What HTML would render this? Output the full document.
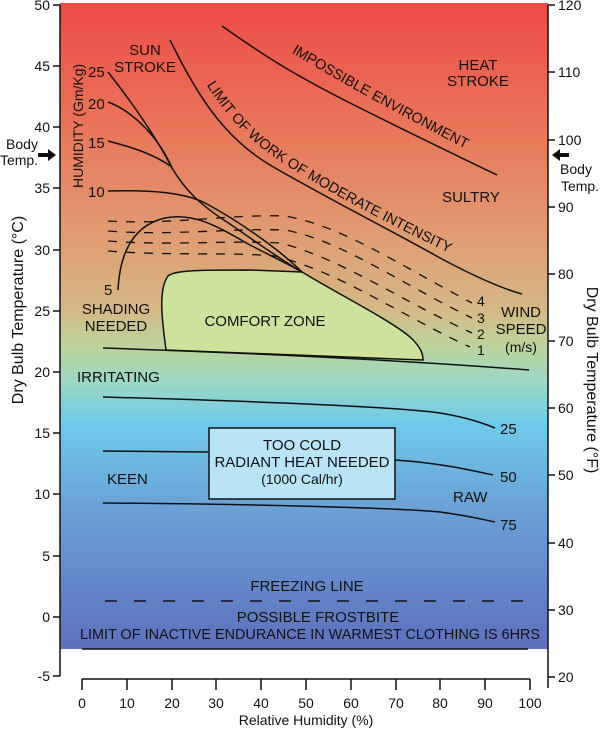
<!DOCTYPE html>
<html><head><meta charset="utf-8"><style>
html,body{margin:0;padding:0;background:#fff}
svg{display:block}
text{font-family:"Liberation Sans",Arial,sans-serif;fill:#111}
</style></head><body>
<svg width="600" height="729" viewBox="0 0 600 729" xmlns="http://www.w3.org/2000/svg">
<defs>
<linearGradient id="bg" x1="0" y1="0" x2="0" y2="1">
<stop offset="0" stop-color="#ee4b45"/>
<stop offset="0.2" stop-color="#e9775a"/>
<stop offset="0.38" stop-color="#dea174"/>
<stop offset="0.47" stop-color="#d6b783"/>
<stop offset="0.53" stop-color="#bdd39b"/>
<stop offset="0.585" stop-color="#9dd8c3"/>
<stop offset="0.65" stop-color="#6fcaea"/>
<stop offset="0.78" stop-color="#6aa2d6"/>
<stop offset="1" stop-color="#5f70bd"/>
</linearGradient>
<path id="limw" d="M174,48 C200,95 225,135 270,165 C330,205 420,250 526,298"/>
<path id="impe" d="M240,30 C300,70 380,115 500,176"/>
</defs>
<rect x="60" y="3" width="488" height="646" fill="url(#bg)"/>
<path d="M166,350 C162,320 158,290 168,276 C175,270 200,270 250,270 L302,272 C340,295 390,320 410,337 C422,348 423,355 423,360 L166,350 Z" fill="#cde39c" stroke="#111" stroke-width="1.5"/>
<g fill="none" stroke="#111" stroke-width="1.5">
<path d="M103,348 C250,353 400,360 529,370"/>
<path d="M103,397 C250,401 400,407 440,413 C470,418 485,424 495,428"/>
<path d="M103,451 L208,452"/>
<path d="M395,460 C440,463 470,470 493,475"/>
<path d="M103,503 C250,504 400,508 440,512 C470,516 485,520 495,522"/>
<path d="M222,26 C270,60 300,78 360,108 C420,138 470,162 497,175"/>
<path d="M170,40 C195,90 220,135 270,165 C330,200 400,235 440,258 C470,274 500,288 522,294"/>
<path d="M108,72 C130,100 155,135 172,168 C185,190 200,205 230,224 C260,245 285,262 302,272"/>
<path d="M108,102 C135,112 160,140 172,168"/>
<path d="M108,141 C135,148 155,155 172,167"/>
<path d="M108,191 C150,190 185,192 207,204 C240,222 280,250 302,272"/>
<path d="M118,290 C120,250 135,225 165,218 C195,212 220,228 250,245 C275,258 292,266 302,272"/>
<path d="M105,601 L523,601" stroke-dasharray="12,17"/>
<path d="M82,649 L528,649"/>
<g stroke-width="1.3" stroke-dasharray="9,9">
<path d="M108,221 C170,225 230,214 285,216 C340,225 400,265 472,303"/>
<path d="M108,231 C170,236 230,228 285,230 C340,240 400,283 472,318"/>
<path d="M108,241 C170,246 230,240 280,243 C340,258 400,300 472,333"/>
<path d="M108,251 C170,256 230,252 275,256 C340,272 400,315 470,347"/>
</g>
<path d="M60,5 L60,676"/>
<path d="M548,5 L548,688"/>
<path d="M82,679 L530,679"/>
</g>
<rect x="209" y="428" width="186" height="71" fill="#b9e4f6" stroke="#111" stroke-width="1.5"/>
<g stroke="#111" stroke-width="1.5">
<path d="M53,5H60M53,66H60M53,127H60M53,188H60M53,250H60M53,311H60M53,372H60M53,433H60M53,494H60M53,556H60M53,617H60M53,676H60"/>
<path d="M548,5H555M548,72H555M548,140H555M548,207H555M548,274H555M548,341H555M548,408H555M548,475H555M548,543H555M548,610H555M548,677H555"/>
<path d="M82,679V690M127,679V690M172,679V690M216,679V690M261,679V690M306,679V690M351,679V690M396,679V690M440,679V690M485,679V690M530,679V690"/>
</g>
<g font-size="14" text-anchor="end">
<text x="50" y="10">50</text><text x="50" y="71">45</text><text x="50" y="132">40</text><text x="50" y="193">35</text><text x="50" y="255">30</text><text x="50" y="316">25</text><text x="50" y="377">20</text><text x="50" y="438">15</text><text x="50" y="499">10</text><text x="50" y="561">5</text><text x="50" y="622">0</text><text x="50" y="681">-5</text>
</g>
<g font-size="14">
<text x="558" y="10">120</text><text x="558" y="77">110</text><text x="558" y="145">100</text><text x="558" y="212">90</text><text x="558" y="279">80</text><text x="558" y="346">70</text><text x="558" y="413">60</text><text x="558" y="480">50</text><text x="558" y="548">40</text><text x="558" y="615">30</text><text x="558" y="682">20</text>
</g>
<g font-size="14" text-anchor="middle">
<text x="82" y="708">0</text><text x="127" y="708">10</text><text x="172" y="708">20</text><text x="216" y="708">30</text><text x="261" y="708">40</text><text x="306" y="708">50</text><text x="351" y="708">60</text><text x="396" y="708">70</text><text x="440" y="708">80</text><text x="485" y="708">90</text><text x="530" y="708">100</text>
<text x="306" y="725" font-size="14">Relative Humidity (%)</text>
<text transform="translate(23,310) rotate(-90)" font-size="16">Dry Bulb Temperature (°C)</text>
<text transform="translate(587,380) rotate(90)" font-size="16">Dry Bulb Temperature (°F)</text>
<text x="145" y="55" font-size="15">SUN</text><text x="145" y="72" font-size="15">STROKE</text>
<text x="478" y="70" font-size="15">HEAT</text><text x="478" y="86" font-size="15">STROKE</text>
<text x="471" y="202" font-size="15">SULTRY</text>
<text x="116" y="314" font-size="15">SHADING</text><text x="116" y="331" font-size="15">NEEDED</text>
<text x="265" y="326" font-size="15">COMFORT ZONE</text>
<text x="521" y="317" font-size="15">WIND</text><text x="521" y="334" font-size="15">SPEED</text><text x="521" y="352">(m/s)</text>
<text x="302" y="450" font-size="15">TOO COLD</text><text x="302" y="467" font-size="15">RADIANT HEAT NEEDED</text><text x="302" y="484" font-size="14">(1000 Cal/hr)</text>
<text x="307" y="591" font-size="15">FREEZING LINE</text>
<text x="318" y="622" font-size="15">POSSIBLE FROSTBITE</text>
<text x="310" y="639" font-size="15" textLength="460" lengthAdjust="spacingAndGlyphs">LIMIT OF INACTIVE ENDURANCE IN WARMEST CLOTHING IS 6HRS</text>
<text x="22" y="149">Body</text><text x="19" y="165">Temp.</text>
<text x="576" y="174">Body</text><text x="580" y="191">Temp.</text>
</g>
<g font-size="15">
<text x="88" y="77">25</text><text x="88" y="109">20</text><text x="88" y="148">15</text><text x="88" y="197">10</text><text x="104" y="295">5</text>
<text x="77" y="382">IRRITATING</text>
<text x="107" y="484">KEEN</text>
<text x="453" y="502">RAW</text>
<text x="500" y="434">25</text><text x="500" y="482">50</text><text x="500" y="530">75</text>
<text x="477" y="306" font-size="14">4</text><text x="477" y="323" font-size="14">3</text><text x="477" y="339" font-size="14">2</text><text x="477" y="355" font-size="14">1</text>
<text transform="translate(83,188) rotate(-90)" font-size="14">HUMIDITY (Gm/Kg)</text>
<g transform="translate(5,-7)"><text font-size="14.5"><textPath href="#impe" startOffset="55">IMPOSSIBLE ENVIRONMENT</textPath></text></g>
<g transform="translate(7,-6)"><text font-size="14.5"><textPath href="#limw" startOffset="50">LIMIT OF WORK OF MODERATE INTENSITY</textPath></text></g>
</g>
<path d="M38,153 H48 V149 L56,155 L48,161 V157 H38 Z" fill="#111"/>
<path d="M569,153 H560 V149 L552,155 L560,161 V157 H569 Z" fill="#111"/>
</svg>
</body></html>
